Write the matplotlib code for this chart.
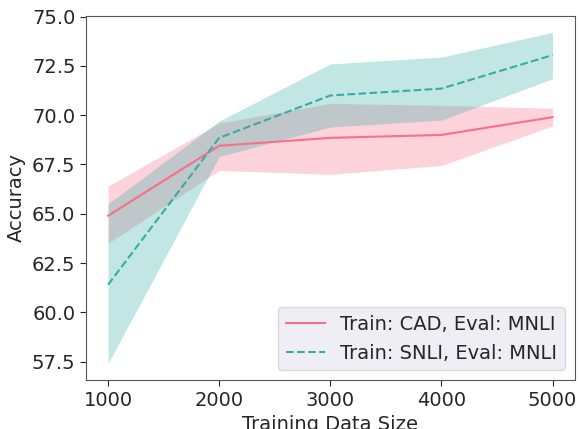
import matplotlib
matplotlib.use("Agg")
import matplotlib.pyplot as plt
import numpy as np

# data
sizes = [1000, 2000, 3000, 4000, 5000]
cad_mean = [64.9, 68.45, 68.85, 69.0, 69.9]
cad_low = [63.5, 67.2, 67.0, 67.45, 69.45]
cad_high = [66.4, 69.6, 70.6, 70.5, 70.35]
snli_mean = [61.4, 68.85, 71.0, 71.35, 73.05]
snli_low = [57.4, 67.9, 69.4, 69.75, 71.85]
snli_high = [65.5, 69.7, 72.6, 72.95, 74.2]

pink = (0.968, 0.441, 0.536)
teal = (0.210, 0.677, 0.643)
text_col = "#262626"

plt.rcParams["font.family"] = ["DejaVu Sans"]
plt.rcParams["font.size"] = 14

fig = plt.figure(figsize=(5.8, 4.29), dpi=100)
ax = fig.add_axes([0.148, 0.114, 0.843, 0.849])

ax.plot(sizes, cad_mean, color=pink, lw=1.5, label="Train: CAD, Eval: MNLI")
ax.fill_between(sizes, cad_low, cad_high, color=pink, alpha=0.3, lw=0)
ax.plot(sizes, snli_mean, color=teal, lw=1.5, ls="--", label="Train: SNLI, Eval: MNLI")
ax.fill_between(sizes, snli_low, snli_high, color=teal, alpha=0.3, lw=0)

ax.set_xticks([1000, 2000, 3000, 4000, 5000])
ax.set_yticks(np.arange(57.5, 75.1, 2.5))
ax.set_xlabel("Training Data Size", color=text_col)
ax.set_ylabel("Accuracy", color=text_col)
ax.tick_params(colors=text_col, labelcolor=text_col, direction="out", length=4)
for s in ax.spines.values():
    s.set_color("#555555")

leg = ax.legend(loc="lower right", frameon=True, fontsize=14)
leg.get_frame().set_facecolor("#EAEAF2")
leg.get_frame().set_edgecolor("#d0d0d8")
for t in leg.get_texts():
    t.set_color(text_col)

fig.savefig("out.png", dpi=100)
